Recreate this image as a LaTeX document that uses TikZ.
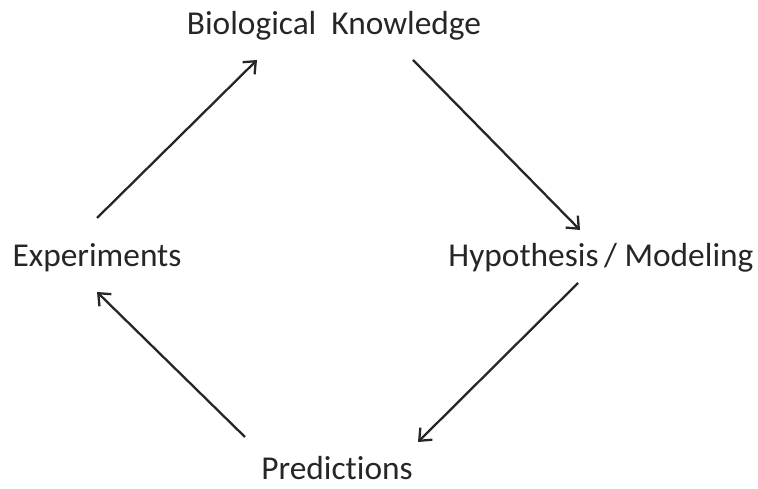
\documentclass[tikz,border=0pt]{standalone}
\usepackage{fontspec}
\setmainfont{Carlito}[Ligatures=NoCommon]
\usetikzlibrary{arrows.meta,calc}

\begin{document}
\begin{tikzpicture}[
    x=0.02cm, y=0.02cm,
    lbl/.style={inner sep=0pt, anchor=base, font=\fontsize{19}{22}\selectfont, text=black!85},
    arr/.style={-{Straight Barb[length=2mm,width=3.4mm]}, line width=1.3pt, black!85}
]
\useasboundingbox (0,0) rectangle (758,489);

% the four stages of the cycle
\node[lbl] (bio) at (334,454) {Biological\ \ Knowledge};
\node[lbl] (exp) at (97,222) {Experiments};
\node[lbl] (hyp) at (601,222) {Hypothesis\,/ Modeling};
\node[lbl] (pred) at (337,9) {Predictions};

% arrows round the cycle
\draw[arr] ($(exp.base)+(0,49)$) -- ($(bio.base)+(-77,-25)$);
\draw[arr] ($(bio.base)+(79,-25)$) -- ($(hyp.base)+(-21,37)$);
\draw[arr] ($(hyp.base)+(-23,-16)$) -- ($(pred.base)+(81,38)$);
\draw[arr] ($(pred.base)+(-92,43)$) -- ($(exp.base)+(0,-25)$);
\end{tikzpicture}
\end{document}
